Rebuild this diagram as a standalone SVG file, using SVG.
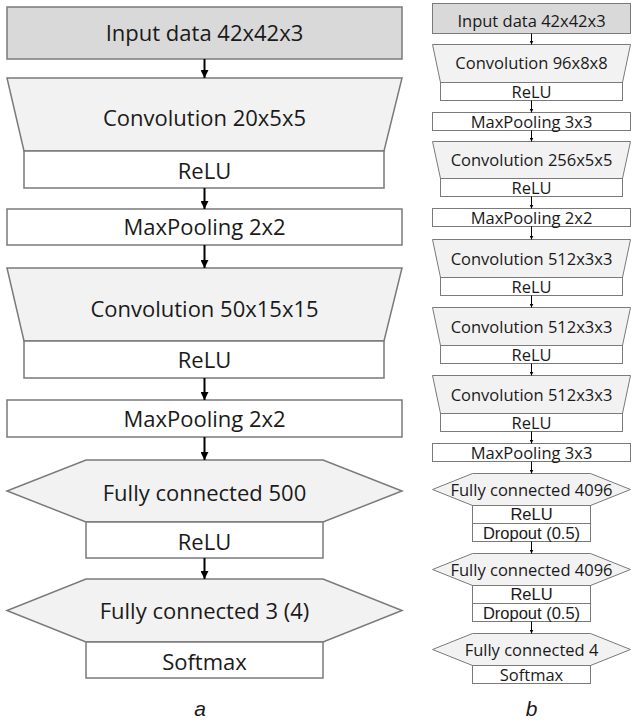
<svg xmlns="http://www.w3.org/2000/svg" width="632" height="722" viewBox="0 0 632 722">
<style>
text{font-family:"Open Sans","Noto Sans",sans-serif;fill:#1a1a1a;text-anchor:middle}
.L{font-size:22px}
.R{font-size:16.5px}
.S{font-family:"Liberation Sans",Arial,sans-serif;font-size:16.5px}
.lab{font-family:"Liberation Sans",Arial,sans-serif;font-style:italic;font-size:21px}
.sl{stroke:#7a7a7a;stroke-width:1.5}
.sr{stroke:#7a7a7a;stroke-width:1}
.in{fill:#d9d9d9}
.cv{fill:#f2f2f2}
.bx{fill:#ffffff}
.al{stroke:#000;stroke-width:2;fill:none;marker-end:url(#ahL)}
.ar{stroke:#000;stroke-width:1;fill:none;marker-end:url(#ahR)}
</style>
<defs>
<marker id="ahL" markerUnits="userSpaceOnUse" markerWidth="8" markerHeight="8" refX="8" refY="4" orient="auto"><path d="M0,0 L8,4 L0,8 z" fill="#000"/></marker>
<marker id="ahR" markerUnits="userSpaceOnUse" markerWidth="4" markerHeight="4" refX="4" refY="2" orient="auto"><path d="M0,0 L4,2 L0,4 z" fill="#000"/></marker>
</defs>
<rect width="632" height="722" fill="#fff"/>

<!-- Column a -->
<g id="a-input"><rect class="in sl" x="7" y="7" width="395" height="52"/><text class="L" x="204.5" y="41">Input data 42x42x3</text></g>
<g id="a-conv1"><polygon class="cv sl" points="7,78 402,78 384,151 24,151"/><text class="L" x="204.5" y="125.5">Convolution 20x5x5</text></g>
<g id="a-relu1"><rect class="bx sl" x="24" y="151" width="360" height="37"/><text class="L" x="204.5" y="178.5">ReLU</text></g>
<g id="a-pool1"><rect class="bx sl" x="7" y="209" width="395" height="36"/><text class="L" x="204.5" y="235">MaxPooling 2x2</text></g>
<g id="a-conv2"><polygon class="cv sl" points="7,268 402,268 384,341 24,341"/><text class="L" x="204.5" y="317">Convolution 50x15x15</text></g>
<g id="a-relu2"><rect class="bx sl" x="24" y="341" width="360" height="37"/><text class="L" x="204.5" y="368">ReLU</text></g>
<g id="a-pool2"><rect class="bx sl" x="7" y="400" width="395" height="37"/><text class="L" x="204.5" y="427">MaxPooling 2x2</text></g>
<g id="a-fc1"><polygon class="cv sl" points="86,460 323,460 402,491 323,522 86,522 7,491"/><text class="L" x="204.5" y="500.5">Fully connected 500</text></g>
<g id="a-relu3"><rect class="bx sl" x="86" y="522" width="237" height="36"/><text class="L" x="204.5" y="549.5">ReLU</text></g>
<g id="a-fc2"><polygon class="cv sl" points="86,579 323,579 402,610.5 323,642 86,642 7,610.5"/><text class="L" x="204.5" y="619">Fully connected 3 (4)</text></g>
<g id="a-softmax"><rect class="bx sl" x="86" y="642" width="237" height="36"/><text class="L" x="204.5" y="669.5">Softmax</text></g>
<text class="lab" x="200" y="716">a</text>

<!-- Column b -->
<g id="b-input"><rect class="in sr" x="432.5" y="3.5" width="198" height="30"/><text class="R" x="531.5" y="26.5">Input data 42x42x3</text></g>
<g id="b-conv1"><polygon class="cv sr" points="432.5,44.5 630.5,44.5 622.5,82.5 440.5,82.5"/><text class="R" x="531.5" y="69">Convolution 96x8x8</text></g>
<g id="b-relu1"><rect class="bx sr" x="440.5" y="82.5" width="182" height="18"/><text class="R" x="531.5" y="97.5">ReLU</text></g>
<g id="b-pool1"><rect class="bx sr" x="432.5" y="112.5" width="198" height="18"/><text class="R" x="531.5" y="127.5">MaxPooling 3x3</text></g>
<g id="b-conv2"><polygon class="cv sr" points="432.5,141.5 630.5,141.5 622.5,178.5 440.5,178.5"/><text class="R" x="531.5" y="166">Convolution 256x5x5</text></g>
<g id="b-relu2"><rect class="bx sr" x="440.5" y="178.5" width="182" height="18"/><text class="R" x="531.5" y="193.5">ReLU</text></g>
<g id="b-pool2"><rect class="bx sr" x="432.5" y="208.5" width="198" height="18"/><text class="R" x="531.5" y="223.5">MaxPooling 2x2</text></g>
<g id="b-conv3"><polygon class="cv sr" points="432.5,239.5 630.5,239.5 622.5,277.5 440.5,277.5"/><text class="R" x="531.5" y="264.5">Convolution 512x3x3</text></g>
<g id="b-relu3"><rect class="bx sr" x="440.5" y="277.5" width="182" height="18"/><text class="R" x="531.5" y="292.5">ReLU</text></g>
<g id="b-conv4"><polygon class="cv sr" points="432.5,307.5 630.5,307.5 622.5,345.5 440.5,345.5"/><text class="R" x="531.5" y="332.5">Convolution 512x3x3</text></g>
<g id="b-relu4"><rect class="bx sr" x="440.5" y="345.5" width="182" height="18"/><text class="R" x="531.5" y="360.5">ReLU</text></g>
<g id="b-conv5"><polygon class="cv sr" points="432.5,375.5 630.5,375.5 622.5,413.5 440.5,413.5"/><text class="R" x="531.5" y="400.5">Convolution 512x3x3</text></g>
<g id="b-relu5"><rect class="bx sr" x="440.5" y="413.5" width="182" height="18"/><text class="R" x="531.5" y="428.5">ReLU</text></g>
<g id="b-pool3"><rect class="bx sr" x="432.5" y="443.5" width="198" height="18"/><text class="R" x="531.5" y="458.5">MaxPooling 3x3</text></g>
<g id="b-fc1"><polygon class="cv sr" points="472.5,473.5 590.5,473.5 630.5,489.5 590.5,505.5 472.5,505.5 432.5,489.5"/><text class="R" x="531.5" y="495.5">Fully connected 4096</text></g>
<g id="b-relu6"><rect class="bx sr" x="472.5" y="505.5" width="118" height="18"/><text class="S" x="531.5" y="519.5">ReLU</text></g>
<g id="b-drop1"><rect class="bx sr" x="472.5" y="523.5" width="118" height="18"/><text class="S" x="531.5" y="538.5">Dropout (0.5)</text></g>
<g id="b-fc2"><polygon class="cv sr" points="472.5,553.5 590.5,553.5 630.5,569.5 590.5,585.5 472.5,585.5 432.5,569.5"/><text class="R" x="531.5" y="575.5">Fully connected 4096</text></g>
<g id="b-relu7"><rect class="bx sr" x="472.5" y="585.5" width="118" height="18"/><text class="S" x="531.5" y="599.5">ReLU</text></g>
<g id="b-drop2"><rect class="bx sr" x="472.5" y="603.5" width="118" height="18"/><text class="S" x="531.5" y="618.5">Dropout (0.5)</text></g>
<g id="b-fc3"><polygon class="cv sr" points="472.5,633.5 590.5,633.5 630.5,649.5 590.5,665.5 472.5,665.5 432.5,649.5"/><text class="R" x="531.5" y="655.5">Fully connected 4</text></g>
<g id="b-softmax"><rect class="bx sr" x="472.5" y="665.5" width="118" height="18"/><text class="R" x="531.5" y="680.5">Softmax</text></g>
<text class="lab" x="531.5" y="716">b</text>

<g id="connectors">
<line class="al" x1="204.5" y1="59" x2="204.5" y2="78"/>
<line class="al" x1="204.5" y1="188" x2="204.5" y2="209"/>
<line class="al" x1="204.5" y1="245" x2="204.5" y2="268"/>
<line class="al" x1="204.5" y1="378" x2="204.5" y2="400"/>
<line class="al" x1="204.5" y1="437" x2="204.5" y2="460"/>
<line class="al" x1="204.5" y1="558" x2="204.5" y2="579"/>
<line class="ar" x1="531.5" y1="33.5" x2="531.5" y2="44.5"/>
<line class="ar" x1="531.5" y1="100.5" x2="531.5" y2="112.5"/>
<line class="ar" x1="531.5" y1="130.5" x2="531.5" y2="141.5"/>
<line class="ar" x1="531.5" y1="196.5" x2="531.5" y2="208.5"/>
<line class="ar" x1="531.5" y1="226.5" x2="531.5" y2="239.5"/>
<line class="ar" x1="531.5" y1="295.5" x2="531.5" y2="307.5"/>
<line class="ar" x1="531.5" y1="363.5" x2="531.5" y2="375.5"/>
<line class="ar" x1="531.5" y1="431.5" x2="531.5" y2="443.5"/>
<line class="ar" x1="531.5" y1="461.5" x2="531.5" y2="473.5"/>
<line class="ar" x1="531.5" y1="541.5" x2="531.5" y2="553.5"/>
<line class="ar" x1="531.5" y1="621.5" x2="531.5" y2="633.5"/>
</g>
</svg>
